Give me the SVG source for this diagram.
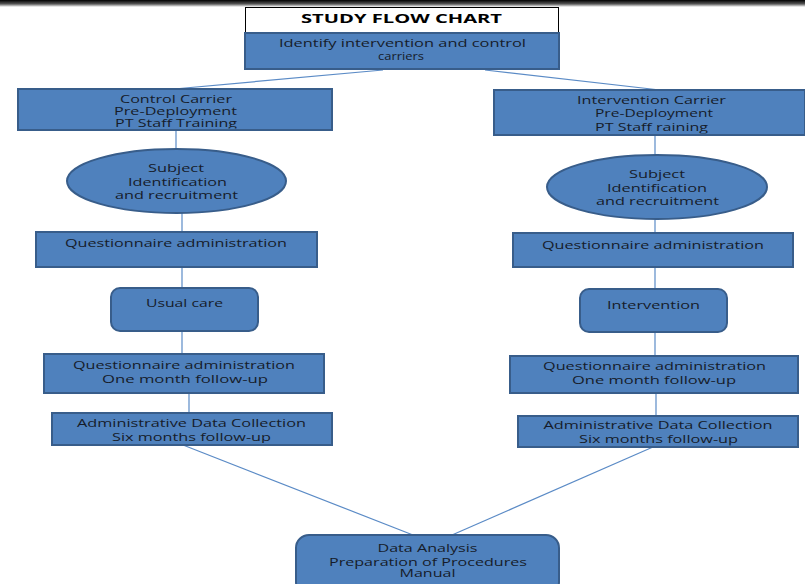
<svg xmlns="http://www.w3.org/2000/svg" width="805" height="584" viewBox="0 0 805 584">
  <defs>
    <linearGradient id="topShade" x1="0" y1="0" x2="0" y2="1">
      <stop offset="0" stop-color="#000"/>
      <stop offset="0.55" stop-color="#555"/>
      <stop offset="1" stop-color="#fff"/>
    </linearGradient>
    <clipPath id="clipCtrl"><rect x="19" y="90" width="312" height="38.5"/></clipPath>
    <clipPath id="clipInt"><rect x="495" y="91" width="309" height="42.5"/></clipPath>
    <clipPath id="clipAdmL"><rect x="53" y="414" width="278" height="29"/></clipPath>
    <clipPath id="clipAdmR"><rect x="519" y="417" width="278" height="28.5"/></clipPath>
  </defs>
  <style>
    .box { fill: #4f81bd; stroke: #385d8a; stroke-width: 2; }
    .title { fill: #fff; stroke: #000; stroke-width: 1; }
    .lbl { font-family: "Open Sans", "Liberation Sans", sans-serif; font-size: 11.5px; fill: #161c2a; text-anchor: middle; }
    .ttl { font-family: "Open Sans", "Liberation Sans", sans-serif; font-size: 12px; font-weight: bold; fill: #000; text-anchor: middle; }
    .link { stroke: #5b8bc6; stroke-width: 1.2; fill: none; }
  </style>

  <!-- dark strip along the top edge -->
  <rect x="0" y="0" width="805" height="7" fill="url(#topShade)"/>

  <g id="connectors">
    <line class="link" x1="383" y1="70" x2="174" y2="89"/>
    <line class="link" x1="485" y1="70" x2="660" y2="90"/>
    <line class="link" x1="176" y1="130" x2="176" y2="149"/>
    <line class="link" x1="182" y1="213" x2="182" y2="232"/>
    <line class="link" x1="182" y1="267" x2="182" y2="288"/>
    <line class="link" x1="182" y1="331" x2="182" y2="354"/>
    <line class="link" x1="189" y1="393" x2="189" y2="413"/>
    <line class="link" x1="183" y1="445" x2="413" y2="535"/>
    <line class="link" x1="655" y1="135" x2="655" y2="155"/>
    <line class="link" x1="655" y1="219" x2="655" y2="233"/>
    <line class="link" x1="655" y1="267" x2="655" y2="289"/>
    <line class="link" x1="655" y1="332" x2="655" y2="356"/>
    <line class="link" x1="656" y1="393" x2="656" y2="416"/>
    <line class="link" x1="653" y1="447" x2="452" y2="535"/>
  </g>

  <g id="title">
    <rect class="title" x="245.5" y="7.5" width="313" height="26"/>
    <text class="ttl" x="401.5" y="23" textLength="201" lengthAdjust="spacingAndGlyphs">STUDY FLOW CHART</text>
  </g>

  <g id="identify">
    <rect class="box" x="245" y="33" width="314" height="36"/>
    <text class="lbl" x="402.5" y="47" textLength="247" lengthAdjust="spacingAndGlyphs">Identify intervention and control</text>
    <text class="lbl" x="401" y="60" textLength="46" lengthAdjust="spacingAndGlyphs">carriers</text>
  </g>

  <g id="control-carrier">
    <rect class="box" x="18" y="89" width="314" height="41"/>
    <g clip-path="url(#clipCtrl)">
      <text class="lbl" x="176" y="103" textLength="112" lengthAdjust="spacingAndGlyphs">Control Carrier</text>
      <text class="lbl" x="175.5" y="115" textLength="123" lengthAdjust="spacingAndGlyphs">Pre-Deployment</text>
      <text class="lbl" x="176" y="127" textLength="122" lengthAdjust="spacingAndGlyphs">PT Staff Training</text>
    </g>
  </g>

  <g id="intervention-carrier">
    <rect class="box" x="494" y="90" width="311" height="45"/>
    <g clip-path="url(#clipInt)">
      <text class="lbl" x="651.5" y="104" textLength="149" lengthAdjust="spacingAndGlyphs">Intervention Carrier</text>
      <text class="lbl" x="654" y="117" textLength="118" lengthAdjust="spacingAndGlyphs">Pre-Deployment</text>
      <text class="lbl" x="651.5" y="131" textLength="113" lengthAdjust="spacingAndGlyphs">PT Staff raining</text>
    </g>
  </g>

  <g id="control-recruitment">
    <ellipse class="box" cx="176.5" cy="181" rx="109.5" ry="32"/>
    <text class="lbl" x="176" y="172" textLength="56" lengthAdjust="spacingAndGlyphs">Subject</text>
    <text class="lbl" x="177.5" y="186" textLength="99" lengthAdjust="spacingAndGlyphs">Identification</text>
    <text class="lbl" x="176.5" y="199" textLength="123" lengthAdjust="spacingAndGlyphs">and recruitment</text>
  </g>

  <g id="intervention-recruitment">
    <ellipse class="box" cx="657" cy="187" rx="110" ry="32"/>
    <text class="lbl" x="657" y="178" textLength="56" lengthAdjust="spacingAndGlyphs">Subject</text>
    <text class="lbl" x="657" y="192" textLength="100" lengthAdjust="spacingAndGlyphs">Identification</text>
    <text class="lbl" x="657.5" y="205" textLength="123" lengthAdjust="spacingAndGlyphs">and recruitment</text>
  </g>

  <g id="control-questionnaire">
    <rect class="box" x="36" y="232" width="281" height="35"/>
    <text class="lbl" x="176" y="247" textLength="222" lengthAdjust="spacingAndGlyphs">Questionnaire administration</text>
  </g>

  <g id="intervention-questionnaire">
    <rect class="box" x="513" y="233" width="280" height="34"/>
    <text class="lbl" x="653" y="249" textLength="222" lengthAdjust="spacingAndGlyphs">Questionnaire administration</text>
  </g>

  <g id="usual-care">
    <rect class="box" x="111" y="288" width="147" height="43" rx="9"/>
    <text class="lbl" x="184.5" y="307" textLength="77" lengthAdjust="spacingAndGlyphs">Usual care</text>
  </g>

  <g id="intervention">
    <rect class="box" x="580" y="289" width="147" height="43" rx="9"/>
    <text class="lbl" x="653.5" y="309" textLength="93" lengthAdjust="spacingAndGlyphs">Intervention</text>
  </g>

  <g id="control-followup">
    <rect class="box" x="44" y="354" width="280" height="39"/>
    <text class="lbl" x="184" y="369" textLength="222" lengthAdjust="spacingAndGlyphs">Questionnaire administration</text>
    <text class="lbl" x="185" y="383" textLength="166" lengthAdjust="spacingAndGlyphs">One month follow-up</text>
  </g>

  <g id="intervention-followup">
    <rect class="box" x="510" y="356" width="288" height="37"/>
    <text class="lbl" x="654.5" y="370" textLength="223" lengthAdjust="spacingAndGlyphs">Questionnaire administration</text>
    <text class="lbl" x="654" y="384" textLength="164" lengthAdjust="spacingAndGlyphs">One month follow-up</text>
  </g>

  <g id="control-admin">
    <rect class="box" x="52" y="413" width="280" height="32"/>
    <g clip-path="url(#clipAdmL)">
      <text class="lbl" x="191.5" y="427" textLength="229" lengthAdjust="spacingAndGlyphs">Administrative Data Collection</text>
      <text class="lbl" x="191.5" y="441" textLength="159" lengthAdjust="spacingAndGlyphs">Six months follow-up</text>
    </g>
  </g>

  <g id="intervention-admin">
    <rect class="box" x="518" y="416" width="280" height="31"/>
    <g clip-path="url(#clipAdmR)">
      <text class="lbl" x="658" y="429" textLength="229" lengthAdjust="spacingAndGlyphs">Administrative Data Collection</text>
      <text class="lbl" x="658.5" y="443" textLength="159" lengthAdjust="spacingAndGlyphs">Six months follow-up</text>
    </g>
  </g>

  <g id="data-analysis">
    <rect class="box" x="296" y="535" width="263" height="60" rx="13"/>
    <text class="lbl" x="427.5" y="552" textLength="100" lengthAdjust="spacingAndGlyphs">Data Analysis</text>
    <text class="lbl" x="428" y="566" textLength="198" lengthAdjust="spacingAndGlyphs">Preparation of Procedures</text>
    <text class="lbl" x="427.5" y="577" textLength="56" lengthAdjust="spacingAndGlyphs">Manual</text>
  </g>
</svg>
